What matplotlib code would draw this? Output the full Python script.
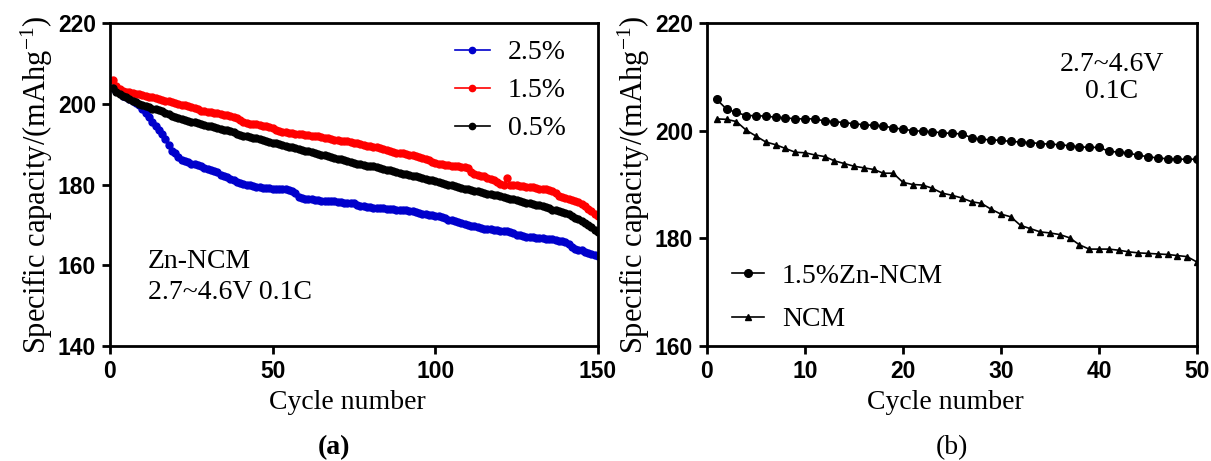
import matplotlib
matplotlib.use('Agg')
import numpy as np
import matplotlib.pyplot as plt

# (a) Zn-NCM with different doping, 150 cycles
cycles_a = list(range(1, 151))
cap_25 = [
    204.0, 203.2, 202.6, 202.0, 201.6, 201.2, 200.8, 200.3, 199.6, 198.8,
    197.8, 196.8, 195.6, 194.6, 193.6, 192.4, 191.2, 189.8, 188.4, 187.8,
    186.8, 186.0, 185.8, 185.6, 185.2, 185.0, 184.8, 184.6, 184.2, 183.8,
    183.6, 183.4, 183.0, 182.4, 182.0, 181.8, 181.4, 181.0, 180.6, 180.4,
    180.2, 180.0, 179.8, 179.6, 179.4, 179.3, 179.2, 179.2, 179.1, 179.0,
    179.0, 178.9, 178.8, 178.8, 178.6, 178.4, 177.8, 177.0, 176.6, 176.5,
    176.4, 176.3, 176.2, 176.1, 176.0, 176.0, 175.9, 175.8, 175.8, 175.7,
    175.6, 175.5, 175.5, 175.4, 175.3, 175.0, 174.8, 174.6, 174.5, 174.4,
    174.3, 174.2, 174.2, 174.1, 174.0, 173.9, 173.9, 173.8, 173.7, 173.7,
    173.6, 173.5, 173.4, 173.2, 173.0, 172.8, 172.6, 172.5, 172.4, 172.3,
    172.2, 172.0, 171.6, 171.3, 171.1, 171.0, 170.8, 170.5, 170.2, 170.0,
    169.8, 169.6, 169.5, 169.3, 169.1, 169.0, 168.9, 168.8, 168.7, 168.6,
    168.5, 168.4, 168.2, 167.9, 167.6, 167.4, 167.2, 167.1, 167.0, 166.9,
    166.8, 166.7, 166.7, 166.6, 166.6, 166.5, 166.3, 166.1, 165.9, 165.7,
    165.2, 164.6, 164.0, 163.8, 163.7, 163.4, 163.0, 162.8, 162.6, 162.4,
]
cap_15 = [
    206.0, 204.5, 203.6, 203.2, 203.0, 202.8, 202.6, 202.4, 202.3, 202.2,
    202.0, 201.8, 201.6, 201.4, 201.2, 201.0, 200.8, 200.6, 200.4, 200.2,
    200.0, 199.8, 199.6, 199.4, 199.2, 198.9, 198.6, 198.3, 198.1, 198.0,
    197.9, 197.8, 197.6, 197.5, 197.3, 197.1, 196.9, 196.7, 196.4, 196.0,
    195.6, 195.3, 195.1, 195.0, 194.9, 194.8, 194.6, 194.4, 194.2, 194.0,
    193.6, 193.2, 193.0, 192.9, 192.8, 192.7, 192.6, 192.5, 192.4, 192.3,
    192.2, 192.1, 192.0, 191.9, 191.8, 191.6, 191.4, 191.2, 191.1, 191.0,
    190.9, 190.8, 190.7, 190.6, 190.4, 190.2, 190.0, 189.8, 189.6, 189.5,
    189.4, 189.2, 189.0, 188.8, 188.5, 188.2, 188.0, 187.9, 187.8, 187.7,
    187.6, 187.4, 187.2, 187.0, 186.8, 186.6, 186.4, 186.0, 185.6, 185.3,
    185.1, 185.0, 184.9, 184.8, 184.7, 184.6, 184.5, 184.4, 184.3, 184.0,
    183.2, 182.6, 182.4, 182.2, 182.0, 181.7, 181.4, 181.0, 180.6, 180.2,
    180.0, 181.5, 180.0, 179.9, 179.8, 179.7, 179.6, 179.5, 179.4, 179.3,
    179.2, 179.0, 178.9, 178.8, 178.7, 178.4, 177.8, 177.2, 176.9, 176.6,
    176.4, 176.2, 176.0, 175.6, 175.1, 174.6, 174.0, 173.4, 172.8, 172.2,
]
cap_05 = [
    204.0, 203.0, 202.4, 202.0, 201.6, 201.2, 200.8, 200.4, 200.0, 199.7,
    199.4, 199.1, 198.8, 198.6, 198.4, 198.1, 197.8, 197.4, 197.0, 196.7,
    196.4, 196.2, 196.0, 195.8, 195.6, 195.4, 195.2, 195.0, 194.8, 194.6,
    194.4, 194.2, 194.0, 193.8, 193.6, 193.4, 193.2, 193.0, 192.6, 192.3,
    192.1, 191.9, 191.8, 191.6, 191.4, 191.2, 191.0, 190.8, 190.6, 190.4,
    190.2, 190.0, 189.8, 189.6, 189.4, 189.2, 189.0, 188.8, 188.6, 188.4,
    188.2, 188.0, 187.8, 187.6, 187.4, 187.2, 187.0, 186.8, 186.6, 186.4,
    186.2, 186.0, 185.8, 185.6, 185.4, 185.2, 185.0, 184.8, 184.7, 184.6,
    184.5, 184.3, 184.1, 183.9, 183.7, 183.5, 183.3, 183.1, 182.9, 182.7,
    182.6, 182.4, 182.2, 182.0, 181.8, 181.6, 181.4, 181.2, 181.0, 180.8,
    180.6, 180.4, 180.2, 180.0, 179.8, 179.6, 179.4, 179.2, 179.0, 178.9,
    178.7, 178.5, 178.3, 178.1, 177.9, 177.7, 177.6, 177.5, 177.3, 177.1,
    176.9, 176.7, 176.5, 176.3, 176.1, 175.9, 175.7, 175.5, 175.3, 175.1,
    175.0, 174.9, 174.7, 174.4, 174.1, 173.8, 173.6, 173.4, 173.2, 172.9,
    172.6, 172.2, 171.8, 171.4, 171.0, 170.5, 170.0, 169.4, 168.8, 168.3,
]

# (b) 1.5%Zn-NCM vs NCM, 50 cycles
cycles_b = list(range(1, 51))
cap_zn = [
    205.8, 204.0, 203.4, 202.8, 202.8, 202.7, 202.5, 202.4, 202.2, 202.2,
    202.2, 201.8, 201.7, 201.5, 201.3, 201.1, 201.0, 200.9, 200.5, 200.3,
    200.0, 199.9, 199.8, 199.6, 199.5, 199.4, 198.7, 198.4, 198.3, 198.2,
    198.0, 197.9, 197.8, 197.6, 197.5, 197.4, 197.2, 197.0, 196.9, 196.9,
    196.2, 196.0, 195.9, 195.4, 195.2, 194.9, 194.8, 194.7, 194.7, 194.7,
]
cap_ncm = [
    202.2, 202.1, 201.7, 200.1, 199.0, 197.9, 197.4, 196.7, 196.0, 195.9,
    195.5, 195.2, 194.4, 193.9, 193.4, 193.1, 192.8, 192.1, 192.1, 190.4,
    190.0, 189.9, 189.3, 188.4, 188.0, 187.5, 186.8, 186.5, 185.4, 184.5,
    184.0, 182.4, 181.8, 181.2, 181.0, 180.7, 180.1, 178.8, 178.0, 178.0,
    178.0, 177.8, 177.5, 177.3, 177.2, 177.1, 177.0, 176.8, 176.6, 175.6,
]

serif = 'Liberation Serif'
sans = 'Liberation Sans'
plt.rcParams.update({'axes.linewidth': 2.0,
                     'xtick.major.width': 2.0, 'ytick.major.width': 2.0,
                     'xtick.major.size': 6, 'ytick.major.size': 6,
                     'mathtext.fontset': 'custom',
                     'mathtext.rm': serif, 'mathtext.it': serif + ':italic'})

fs = 20

fig = plt.figure(figsize=(12.11, 4.61), dpi=100)
ax1 = fig.add_axes([0.0908, 0.2495, 0.403, 0.7005])
ax2 = fig.add_axes([0.5838, 0.2495, 0.4046, 0.7005])

ax1.plot(cycles_a, cap_25, color='#0000cc', marker='o', markersize=5, linewidth=1.2, label='2.5%')
ax1.plot(cycles_a, cap_15, color='#ff0000', marker='o', markersize=5, linewidth=1.2, label='1.5%')
ax1.plot(cycles_a, cap_05, color='black', marker='o', markersize=5, linewidth=1.2, label='0.5%')
ax1.set_xlim(0, 150)
ax1.set_ylim(140, 220)
ax1.set_xticks([0, 50, 100, 150])
ax1.set_yticks([140, 160, 180, 200, 220])
ax1.text(11.7, 157.1, 'Zn-NCM\n2.7~4.6V 0.1C', fontfamily=serif, fontsize=fs,
         va='center', ha='left', linespacing=1.3)
ax1.legend(loc='upper right', prop={'family': serif, 'size': fs}, frameon=False,
           handlelength=1.25, handletextpad=0.65, labelspacing=0.45,
           bbox_to_anchor=(0.985, 1.025), markerscale=0.9)

ax2.plot(cycles_b, cap_zn, color='black', marker='o', markersize=5.5, linewidth=1.2, label='1.5%Zn-NCM')
ax2.plot(cycles_b, cap_ncm, color='black', marker='^', markersize=5, linewidth=1.2, label='NCM')
ax2.set_xlim(0, 50)
ax2.set_ylim(160, 220)
ax2.set_xticks([0, 10, 20, 30, 40, 50])
ax2.set_yticks([160, 180, 200, 220])
ax2.text(41.3, 209.8, '2.7~4.6V\n0.1C', fontfamily=serif, fontsize=fs,
         va='center', ha='center', linespacing=1.15)
ax2.legend(loc='lower left', prop={'family': serif, 'size': fs}, frameon=False,
           handlelength=1.15, handletextpad=0.65, labelspacing=0.65,
           bbox_to_anchor=(0.0, -0.035))

for ax in [ax1, ax2]:
    for s in ax.spines.values():
        s.set_linewidth(2.0)
    ax.tick_params(direction='out', labelsize=16.5, pad=4)
    for lab in ax.get_xticklabels() + ax.get_yticklabels():
        lab.set_fontfamily(sans)
        lab.set_fontweight('bold')
    ax.set_xlabel('Cycle number', fontfamily=serif, fontsize=fs, labelpad=12)
    ax.xaxis.set_label_coords(0.486, -0.135)
    ax.set_ylabel('Specific capacity/(mAhg$^{-1}$)', fontfamily=serif, fontsize=22, labelpad=2)

fig.text(334 / 1211, 1 - 448 / 461, '(a)', fontfamily=serif, fontsize=fs,
         fontweight='bold', ha='center', va='center')
fig.text(952 / 1211, 1 - 448 / 461, '(b)', fontfamily=serif, fontsize=fs,
         ha='center', va='center')

fig.savefig('out.png', dpi=100)
